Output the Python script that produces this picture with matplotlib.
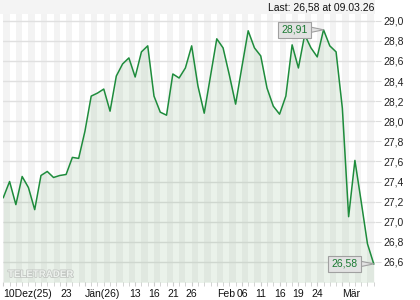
import matplotlib.pyplot as plt
import matplotlib.patheffects as pe
from matplotlib.patches import Rectangle
import numpy as np

# Daily closing prices, 10 Dec 2025 .. 09 Mar 2026
prices = [27.24, 27.40, 27.17, 27.45, 27.34, 27.12, 27.46, 27.50, 27.44, 27.46,
          27.47, 27.64, 27.63, 27.90, 28.25, 28.28, 28.32, 28.10, 28.45, 28.57,
          28.63, 28.44, 28.69, 28.75, 28.25, 28.09, 28.06, 28.47, 28.43, 28.53,
          28.75, 28.35, 28.08, 28.45, 28.82, 28.73, 28.46, 28.17, 28.54, 28.90,
          28.73, 28.65, 28.33, 28.15, 28.07, 28.25, 28.76, 28.53, 28.86, 28.73,
          28.64, 28.91, 28.75, 28.69, 28.13, 27.05, 27.61, 27.20, 26.78, 26.58]

tick_idx = [0, 10, 13, 21, 24, 27, 30, 34, 38, 41, 44, 47, 50, 54]
tick_labels = ['10Dez(25)', '23', 'Jän(26)', '13', '16', '21', '26',
               'Feb', '06', '11', '16', '19', '24', 'Mär']
month_labels = ['10Dez(25)', 'Jän(26)', 'Feb', 'Mär']
last_text = 'Last: 26,58 at 09.03.26'

plt.rcParams['font.family'] = ['Liberation Sans', 'DejaVu Sans']


def fmt(v):
    return f'{v:.2f}'.replace('.', ',')


fig = plt.figure(figsize=(4.2, 3.0), dpi=100)
ax = fig.add_axes([3 / 420, 18 / 300, 372 / 420, 268 / 300])

x = np.arange(len(prices))
ax.set_xlim(-0.05, len(prices) - 1 + 0.2)
ax.set_ylim(26.40, 29.067)

# alternating day columns
for i in range(0, len(prices), 2):
    ax.axvspan(i, i + 1, color='#f3f3f3', lw=0, zorder=0)

ax.fill_between(x, prices, 26.3, color='#5a9a5a', alpha=0.12, lw=0, zorder=1)
ax.plot(x, prices, color='#1e8c3c', lw=1.1, zorder=3)

# y axis on the right, comma decimals
ax.yaxis.tick_right()
ax.set_yticks(np.arange(26.6, 29.01, 0.2))
ax.yaxis.set_major_formatter(plt.FuncFormatter(lambda v, p: f'{v:.1f}'.replace('.', ',')))
ax.yaxis.grid(True, color='#e0e0e0', lw=1, zorder=0.5)
ax.set_axisbelow(True)
ax.tick_params(axis='y', length=4, color='#dddddd', pad=2, labelsize=7.5, labelcolor='#222222')

ax.set_xticks(tick_idx)
ax.set_xticklabels(tick_labels)
ax.set_xticks(x, minor=True)
ax.tick_params(axis='x', which='both', length=3, color='#cccccc', labelsize=7.5,
               pad=2, labelcolor='#111111')
for lab in ax.get_xticklabels():
    if lab.get_text() in month_labels:
        lab.set_ha('left')

for s in ax.spines.values():
    s.set_visible(False)

# value boxes
box = dict(boxstyle='square,pad=0.3', fc='#e2e2e2', ec='#a0a0a0', lw=0.8)
arrow = dict(arrowstyle='wedge,tail_width=0.5', fc='#e2e2e2', ec='#a0a0a0', lw=0.8,
             shrinkA=0, shrinkB=0)
hi = int(np.argmax(prices))
ax.annotate(fmt(prices[hi]), xy=(hi, prices[hi]), xytext=(-21, 0), textcoords='offset points',
            ha='center', va='center', fontsize=7.5, color='#1a7a32', bbox=box,
            arrowprops=arrow, zorder=5)
last = len(prices) - 1
ax.annotate(fmt(prices[last]), xy=(last, prices[last]), xytext=(-21, 0), textcoords='offset points',
            ha='center', va='center', fontsize=7.5, color='#1a7a32', bbox=box,
            arrowprops=arrow, zorder=5)

# header band and texts
fig.patches.append(Rectangle((0, 1 - 14 / 300), 375 / 420, 14 / 300,
                             transform=fig.transFigure, fc='#f4f4f4', lw=0, zorder=0))
fig.text(374 / 420, 1 - 7 / 300, last_text, ha='right', va='center', fontsize=7.5, color='#111111')
fig.text(8 / 420, 1 - 274 / 300, 'TELETRADER', ha='left', va='center', fontsize=7,
         fontweight='bold', color='#eef2ee',
         path_effects=[pe.withStroke(linewidth=1.2, foreground='#c4c8c4')])

fig.savefig('out.png', dpi=100)
